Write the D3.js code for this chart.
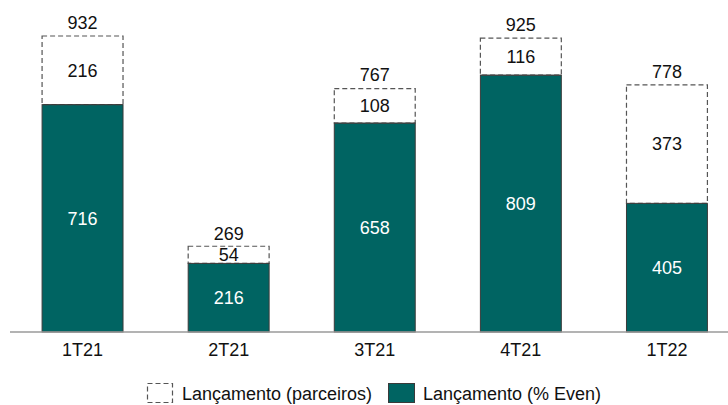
<!DOCTYPE html>
<html>
<head>
<meta charset="utf-8">
<script src="https://cdn.jsdelivr.net/npm/d3@7"></script>
<style>
  body { margin: 0; background: #fff; }
  svg { display: block; font-family: "Liberation Sans", Arial, sans-serif; }
</style>
</head>
<body>
<div class="chart"></div>
<script>
// quarters and launch values
const quarters = ["1T21", "2T21", "3T21", "4T21", "1T22"];
const evenShare = [716, 216, 658, 809, 405];
const partners = [216, 54, 108, 116, 373];
const totals = [932, 269, 767, 925, 778];

const width = 728, height = 405;
const tealColor = "#006462";

const svg = d3.select(".chart")
    .append("svg")
    .attr("width", width)
    .attr("height", height);

const xScale = d3.scaleBand()
    .domain(quarters)
    .range([9.5, 740])
    .paddingInner(0.446)
    .paddingOuter(0.223);

const yScale = d3.scaleLinear()
    .domain([0, d3.max(totals)])
    .range([332, 36]);

const rows = quarters.map((q, i) => ({
    q: q,
    even: evenShare[i],
    partner: partners[i],
    total: totals[i]
}));

// bottom segment (teal)
svg.selectAll("rect.even")
    .data(rows)
    .enter()
    .append("rect")
    .attr("class", "even")
    .attr("x", (d) => xScale(d.q))
    .attr("y", (d) => yScale(d.even))
    .attr("width", xScale.bandwidth())
    .attr("height", (d) => yScale(0) - yScale(d.even))
    .style("fill", tealColor)
    .style("stroke", "#3a3a3a")
    .style("stroke-width", 1);

// top segment (dashed outline)
svg.selectAll("rect.partner")
    .data(rows)
    .enter()
    .append("rect")
    .attr("class", "partner")
    .attr("x", (d) => xScale(d.q))
    .attr("y", (d) => yScale(d.even + d.partner))
    .attr("width", xScale.bandwidth())
    .attr("height", (d) => yScale(d.even) - yScale(d.even + d.partner))
    .style("fill", "#fff")
    .style("stroke", "#555")
    .style("stroke-width", 1.2)
    .style("stroke-dasharray", "5,3");

// redraw the solid line between segments
svg.selectAll("line.sep")
    .data(rows)
    .enter()
    .append("line")
    .attr("x1", (d) => xScale(d.q))
    .attr("x2", (d) => xScale(d.q) + xScale.bandwidth())
    .attr("y1", (d) => yScale(d.even))
    .attr("y2", (d) => yScale(d.even))
    .style("stroke", "#3a3a3a")
    .style("stroke-width", 1);

// baseline
svg.append("line")
    .attr("x1", 10)
    .attr("x2", width)
    .attr("y1", yScale(0))
    .attr("y2", yScale(0))
    .style("stroke", "#9a9a9a")
    .style("stroke-width", 1.5);

const cx = (d) => xScale(d.q) + xScale.bandwidth() / 2;

svg.selectAll("text.even")
    .data(rows)
    .enter()
    .append("text")
    .attr("x", cx)
    .attr("y", (d) => yScale(d.even / 2))
    .attr("dy", "0.35em")
    .attr("text-anchor", "middle")
    .style("font-size", "18px")
    .style("fill", "#fff")
    .text((d) => d.even);

svg.selectAll("text.partner")
    .data(rows)
    .enter()
    .append("text")
    .attr("x", cx)
    .attr("y", (d) => yScale(d.even + d.partner / 2))
    .attr("dy", "0.35em")
    .attr("text-anchor", "middle")
    .style("font-size", "18px")
    .style("fill", "#111")
    .text((d) => d.partner);

svg.selectAll("text.total")
    .data(rows)
    .enter()
    .append("text")
    .attr("x", cx)
    .attr("y", (d) => yScale(d.total) - 7)
    .attr("text-anchor", "middle")
    .style("font-size", "18px")
    .style("fill", "#111")
    .text((d) => d.total);

svg.selectAll("text.cat")
    .data(rows)
    .enter()
    .append("text")
    .attr("x", cx)
    .attr("y", 356)
    .attr("text-anchor", "middle")
    .style("font-size", "18px")
    .style("fill", "#111")
    .text((d) => d.q);

// legend
const legend = svg.append("g").attr("transform", "translate(0, 383)");

legend.append("rect")
    .attr("x", 147.5)
    .attr("y", 0.5)
    .attr("width", 25)
    .attr("height", 19)
    .style("fill", "#fff")
    .style("stroke", "#555")
    .style("stroke-width", 1.2)
    .style("stroke-dasharray", "5,3");

legend.append("text")
    .attr("x", 182)
    .attr("y", 17)
    .style("font-size", "18px")
    .style("fill", "#111")
    .text("Lançamento (parceiros)");

legend.append("rect")
    .attr("x", 388.5)
    .attr("y", 0.5)
    .attr("width", 26)
    .attr("height", 19)
    .style("fill", tealColor)
    .style("stroke", "#3a3a3a")
    .style("stroke-width", 1);

legend.append("text")
    .attr("x", 423)
    .attr("y", 17)
    .style("font-size", "18px")
    .style("fill", "#111")
    .text("Lançamento (% Even)");
</script>
</body>
</html>
